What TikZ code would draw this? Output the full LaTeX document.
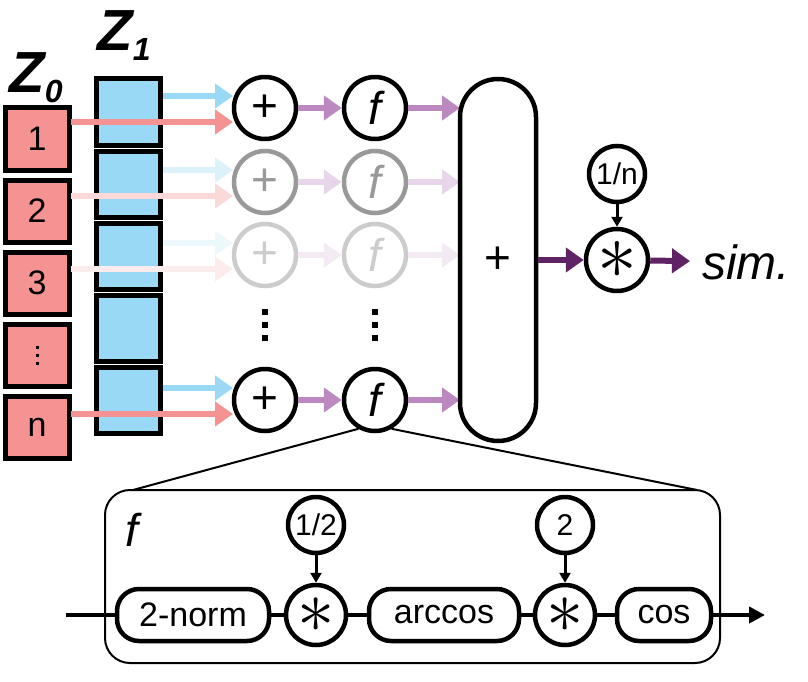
\documentclass[tikz,border=0pt]{standalone}
\usepackage{fontspec}
\setmainfont{Liberation Sans}
\usetikzlibrary{arrows.meta,calc}
\definecolor{zr}{HTML}{F59393}
\definecolor{zb}{HTML}{99D9F5}
\definecolor{pl}{HTML}{BB88C0}
\definecolor{pd}{HTML}{5E2265}
\newcommand{\bigast}[1]{\scalebox{#1}{$\ast$}}
\begin{document}
\begin{tikzpicture}[x=1pt,y=-1pt,
 zbox/.style={draw,line width=5pt,minimum width=64pt,minimum height=62pt,inner sep=0pt,font=\fontsize{34}{36}\selectfont},
 op/.style={draw,circle,line width=4.5pt,minimum size=62pt,inner sep=0pt,font=\fontsize{46}{48}\selectfont},
 sop/.style={draw,circle,line width=4.5pt,minimum size=56pt,inner sep=0pt,font=\fontsize{30}{32}\selectfont},
 pill/.style={draw,rounded corners=22pt,line width=4.5pt,minimum height=52pt,inner sep=0pt,font=\fontsize{34}{36}\selectfont},
 fat/.style={line width=6pt,-{Triangle[length=18pt,width=24pt]}},
 thin/.style={line width=3pt,-{Triangle[length=10pt,width=11pt]}}]
\useasboundingbox (0,0) rectangle (808,682);
% Z1 column
\foreach \i/\y in {1/112,2/184,3/256,4/328,5/400}
  \node[zbox,fill=zb,minimum height=66pt] (b\i) at (128,\y) {};
% Z0 column
\foreach \i/\y/\t in {1/139/1,2/211/2,3/283/3,4/355/{},5/427/n}
  \node[zbox,fill=zr,minimum height=62pt] (r\i) at (37,\y) {\t};
\foreach \d in {-8,0,8} \fill (r4.center) ++(-1.5,\d-1.5) rectangle ++(3,3);
\node[font=\bfseries\itshape\fontsize{58}{58}\selectfont] (z0) at (36,78) {Z\raisebox{-10pt}{\fontsize{32}{32}\selectfont 0}};
\node[font=\bfseries\itshape\fontsize{58}{58}\selectfont] (z1) at (124,36) {Z\raisebox{-10pt}{\fontsize{32}{32}\selectfont 1}};
% rows
\foreach \i/\y/\c/\o in {1/108/black/100,2/182/black!40/35,3/255/black!20/18,5/400/black/100}{
  \node[op,draw=\c,text=\c] (p\i) at (265,\y) {+};
  \node[op,draw=\c,text=\c,font=\itshape\fontsize{46}{48}\selectfont] (f\i) at (375,\y) {f};
  \coordinate (bo\i) at (163,\y-12);
  \coordinate (ro\i) at (71,\y+14);
  \draw[fat,zb!\o!white] (bo\i) -- ($(bo\i)+(70,0)$) coordinate (be\i);
  \draw[fat,zr!\o!white] (ro\i) -- ($(ro\i)+(162,0)$) coordinate (re\i);
  \draw[fat,pl!\o!white] (p\i) -- (f\i);
  \coordinate (se\i) at (460,\y);
  \draw[fat,pl!\o!white] (f\i) -- (se\i);
}
% dots
\foreach \x in {265,375}\foreach \d in {-13,0,13}
  \fill (\x-3,325+\d-3) rectangle (\x+3,325+\d+3);
% sum
\node[draw,line width=4.5pt,rounded corners=38pt,minimum width=76pt,minimum height=362pt,inner sep=0pt,font=\fontsize{46}{48}\selectfont] (sum) at (498,260) {+};
\node[op] (mul) at (617,260) {\bigast{3.2}};
\node[sop] (inv) at (617,174) {1/n};
\node[font=\itshape\fontsize{48}{50}\selectfont,anchor=west,inner sep=12pt] (sim) at (690,262) {sim.};
\draw[fat,pd] (sum) -- (mul);
\draw[fat,pd] (mul) -- (sim);
\draw[thin] (inv) -- (mul);
% zoom box
\draw[line width=2pt,rounded corners=25pt] (105,490) rectangle (720,663);
\coordinate (zl) at (133,490);
\coordinate (zrr) at (697,490);
\draw[line width=2pt] (f5.-120) -- (zl);
\draw[line width=2pt] (f5.-60) -- (zrr);
\node[font=\itshape\fontsize{46}{48}\selectfont] (fl) at (132,530) {f};
\node[pill,minimum width=152pt] (n1) at (193,615) {2-norm};
\node[sop,minimum size=60pt] (m1) at (316,615) {\bigast{3}};
\node[pill,minimum width=150pt] (n2) at (444,615) {arccos};
\node[sop,minimum size=60pt] (m2) at (565,615) {\bigast{3}};
\node[pill,minimum width=94pt] (n3) at (664,615) {cos};
\node[sop] (h) at (316,525) {1/2};
\node[sop] (t) at (565,525) {2};
\coordinate (in) at (66,615);
\coordinate (out) at (765,615);
\draw[line width=4pt] (in) -- (n1);
\draw[line width=4pt] (n1) -- (m1);
\draw[line width=4pt] (m1) -- (n2);
\draw[line width=4pt] (n2) -- (m2);
\draw[line width=4pt] (m2) -- (n3);
\draw[line width=4pt,-{Triangle[length=16pt,width=16pt]}] (n3) -- (out);
\draw[thin] (h) -- (m1);
\draw[thin] (t) -- (m2);
\end{tikzpicture}
\end{document}
